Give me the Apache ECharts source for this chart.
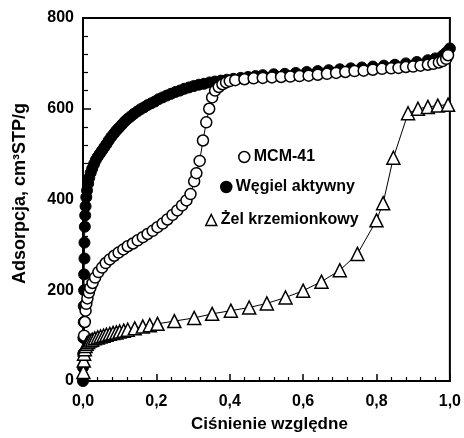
<!DOCTYPE html>
<html>
<head>
<meta charset="utf-8">
<script src="https://cdn.jsdelivr.net/npm/echarts@6/dist/echarts.min.js"></script>
<style>
html,body{margin:0;padding:0;background:#fff;}
#chart{width:464px;height:438px;}
</style>
</head>
<body>
<div id="chart"></div>
<script>
// ---- data ----
const seriesNames = ['MCM-41', 'Węgiel aktywny', 'Żel krzemionkowy'];
const xTickLabels = ['0,0', '0,2', '0,4', '0,6', '0,8', '1,0'];
const yTickLabels = ['0', '200', '400', '600', '800'];
const xTitle = 'Ciśnienie względne';
const yTitle = 'Adsorpcja, cm³STP/g';

const wegielData = [
  [0,0],[0,30],[0.001,60],[0.001,95],[0.002,130],[0.002,165],[0.003,200],[0.003,235],
  [0.004,270],[0.004,305],[0.005,340],[0.006,365],[0.007,385],[0.009,405],[0.011,420],
  [0.014,435],[0.017,448],[0.021,459],[0.025,468],[0.03,478],[0.035,487],[0.04,494],
  [0.046,501],[0.052,508],[0.058,515],[0.064,522],[0.07,530],[0.077,538],[0.084,545],
  [0.091,552],[0.098,558],[0.106,565],[0.114,572],[0.122,578],[0.13,583],[0.139,589],
  [0.148,594],[0.157,599],[0.166,603],[0.176,608],[0.186,612],[0.196,616],[0.206,621],
  [0.217,625],[0.228,629],[0.24,633],[0.252,637],[0.264,640],[0.276,644],[0.289,647],
  [0.302,650],[0.316,653],[0.33,655],[0.345,658],[0.36,660],[0.376,662],[0.392,664],
  [0.41,666],[0.43,668],[0.45,670],[0.47,672],[0.49,674],[0.52,676],[0.55,677],
  [0.58,679],[0.61,681],[0.64,683],[0.67,685],[0.70,687],[0.73,689],[0.76,691],
  [0.79,693],[0.82,695],[0.85,697],[0.88,700],[0.91,703],[0.94,707],[0.96,711],
  [0.98,717],[0.99,724],[1.0,733]
];

const mcmData = [
  [0.002,60],[0.003,100],[0.005,130],[0.007,155],[0.009,170],[0.012,182],[0.016,195],
  [0.02,205],[0.026,216],[0.033,228],[0.042,240],[0.052,250],[0.062,260],[0.073,268],
  [0.085,276],[0.097,283],[0.11,290],[0.122,297],[0.136,303],[0.149,310],[0.163,317],
  [0.176,324],[0.19,331],[0.203,339],[0.217,347],[0.23,356],[0.244,366],[0.257,376],
  [0.27,387],[0.282,398],[0.293,412],[0.303,440],[0.309,458],[0.318,485],[0.327,530],
  [0.336,570],[0.344,600],[0.352,625],[0.36,640],[0.37,648],[0.38,654],[0.39,658],
  [0.40,661],[0.415,663],[0.44,665],[0.465,667],[0.49,668],[0.515,669],[0.54,670],
  [0.565,671],[0.59,672],[0.615,673],[0.64,675],[0.665,677],[0.69,679],[0.715,681],
  [0.74,683],[0.765,684],[0.79,686],[0.815,688],[0.84,689],[0.86,690],[0.88,692],
  [0.90,693],[0.92,695],[0.94,697],[0.955,699],[0.97,702],[0.98,705],[0.99,710],[0.995,718]
];

const zelData = [
  [0.001,20],[0.002,45],[0.003,60],[0.005,70],[0.007,77],[0.01,82],[0.014,86],[0.019,89],
  [0.025,91],[0.032,94],[0.04,96],[0.048,98],[0.056,100],[0.064,102],[0.073,104],
  [0.082,106],[0.091,107],[0.1,109],[0.111,111],[0.122,113],[0.141,116],[0.163,120],
  [0.182,123],[0.203,126],[0.249,132],[0.303,139],[0.352,148],[0.403,155],[0.453,162],
  [0.501,171],[0.552,184],[0.60,199],[0.65,219],[0.70,244],[0.748,280],[0.80,354],
  [0.818,392],[0.846,492],[0.886,590],[0.913,600],[0.94,604],[0.967,607],[0.995,609]
];

// ---- chart ----
const FONT = '"Liberation Sans", Arial, sans-serif';
const chart = echarts.init(document.getElementById('chart'), null, {renderer: 'canvas'});

function legendFor(name, icon, fill, left, top) {
  return {
    show: true,
    left: left, top: top,
    padding: 0,
    itemWidth: 11, itemHeight: 11,
    data: [{name: name, icon: icon,
      itemStyle: {color: fill, borderColor: '#000', borderWidth: 1.5}}],
    textStyle: {fontFamily: FONT, fontWeight: 'bold', fontSize: 16, color: '#000', padding: [0,0,0,-1]},
    selectedMode: false
  };
}

const option = {
  backgroundColor: '#fff',
  animation: false,
  grid: {left: 83, right: 12, top: 18, bottom: 53, show: true,
         borderColor: '#000', borderWidth: 2, backgroundColor: 'transparent'},
  legend: [
    legendFor(seriesNames[0], 'circle', '#fff', 238, 149),
    legendFor(seriesNames[1], 'circle', '#000', 220, 179),
    legendFor(seriesNames[2], 'triangle', '#fff', 205, 212)
  ],
  xAxis: {
    type: 'value', min: 0, max: 1, interval: 0.2,
    name: xTitle, nameLocation: 'middle', nameGap: 35,
    nameTextStyle: {fontFamily: FONT, fontWeight: 'bold', fontSize: 17, color: '#000', padding: [0,0,0,6]},
    axisLine: {show: true, lineStyle: {color: '#000', width: 2}},
    axisTick: {show: true, inside: true, length: 7, lineStyle: {color: '#000', width: 1.5}},
    minorTick: {show: true, splitNumber: 5, length: 4, lineStyle: {color: '#000', width: 1.2}},
    splitLine: {show: false},
    axisLabel: {
      margin: 13, color: '#000', fontFamily: FONT, fontWeight: 'bold', fontSize: 16,
      formatter: function (v) { return xTickLabels[Math.round(v / 0.2)]; }
    }
  },
  yAxis: {
    type: 'value', min: 0, max: 800, interval: 200,
    name: yTitle, nameLocation: 'middle', nameGap: 54,
    nameTextStyle: {fontFamily: FONT, fontWeight: 'bold', fontSize: 18, color: '#000', padding: [0,0,0,12]},
    axisLine: {show: true, lineStyle: {color: '#000', width: 2}},
    axisTick: {show: true, inside: true, length: 8, lineStyle: {color: '#000', width: 1.5}},
    minorTick: {show: true, splitNumber: 5, length: 5, lineStyle: {color: '#000', width: 1.2}},
    splitLine: {show: false},
    axisLabel: {
      margin: 9, color: '#000', fontFamily: FONT, fontWeight: 'bold', fontSize: 16,
      formatter: function (v) { return yTickLabels[Math.round(v / 200)]; }
    }
  },
  series: [
    {
      name: seriesNames[1], type: 'line', data: wegielData,
      symbol: 'circle', symbolSize: 11, showAllSymbol: true,
      lineStyle: {color: '#000', width: 1},
      itemStyle: {color: '#000', borderColor: '#000', borderWidth: 1},
      z: 2
    },
    {
      name: seriesNames[0], type: 'line', data: mcmData,
      symbol: 'circle', symbolSize: 11, showAllSymbol: true,
      lineStyle: {color: '#000', width: 1},
      itemStyle: {color: '#fff', borderColor: '#000', borderWidth: 1.5},
      z: 3
    },
    {
      name: seriesNames[2], type: 'line', data: zelData,
      symbol: 'triangle', symbolSize: 13, showAllSymbol: true,
      lineStyle: {color: '#000', width: 1},
      itemStyle: {color: '#fff', borderColor: '#000', borderWidth: 1.5},
      z: 4
    }
  ]
};
chart.setOption(option);
</script>
</body>
</html>
